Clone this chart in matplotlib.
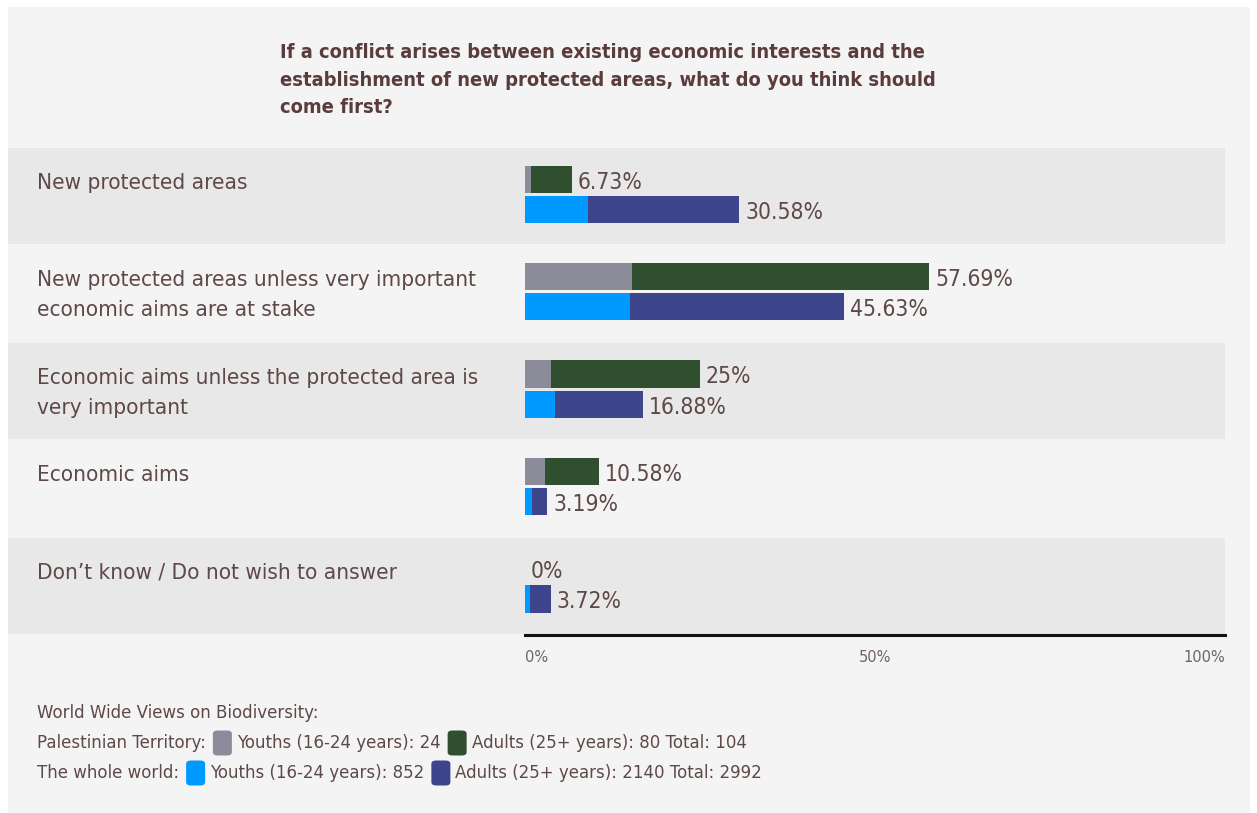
import matplotlib
matplotlib.use("Agg")
import matplotlib.pyplot as plt
from matplotlib.patches import Rectangle, FancyBboxPatch

# ---- data -------------------------------------------------------------
title = ("If a conflict arises between existing economic interests and the\n"
         "establishment of new protected areas, what do you think should\n"
         "come first?")
categories = [
    "New protected areas",
    "New protected areas unless very important\neconomic aims are at stake",
    "Economic aims unless the protected area is\nvery important",
    "Economic aims",
    "Don\u2019t know / Do not wish to answer",
]
# Palestinian Territory: total share and the part contributed by youths
pt_total = [6.73, 57.69, 25.0, 10.58, 0.0]
pt_youth = [0.96, 15.38, 3.85, 2.88, 0.0]
# The whole world
world_total = [30.58, 45.63, 16.88, 3.19, 3.72]
world_youth = [9.1, 15.0, 4.35, 1.1, 0.85]

tick_values = [0, 50, 100]
tick_labels = ["0%", "50%", "100%"]

legend_title = "World Wide Views on Biodiversity:"
legend_rows = [
    ("Palestinian Territory:", [("Youths (16-24 years): 24", "#8b8b99"),
                                ("Adults (25+ years): 80 Total: 104", "#2f4f2f")]),
    ("The whole world:", [("Youths (16-24 years): 852", "#0099ff"),
                          ("Adults (25+ years): 2140 Total: 2992", "#3d468c")]),
]

# ---- style ------------------------------------------------------------
C_PT_Y, C_PT_A = "#8b8b99", "#2f4f2f"
C_W_Y, C_W_A = "#0099ff", "#3d468c"
TXT = "#5e4848"
TITLE_C = "#5a3c3c"
BAND = "#e8e8e8"
PANEL = "#f4f4f4"
FONT = ["DejaVu Sans"]
NARROW = dict(family=FONT, fontstretch="condensed")

W, H = 1257, 813
fig = plt.figure(figsize=(W / 100, H / 100), dpi=100, facecolor="white")

# panel background
fig.patches.append(Rectangle((8 / W, 0), (1250 - 8) / W, (H - 7) / H,
                             transform=fig.transFigure, facecolor=PANEL,
                             edgecolor="none", zorder=-10))

# ---- main axes: x in percent, rows stacked downwards ------------------
x0_px, x100_px = 524.5, 1225.0
left_px = 8.0
top_px, bot_px = 148.0, 635.0
px_per_pct = (x100_px - x0_px) / 100.0
xmin = -(x0_px - left_px) / px_per_pct

ax = fig.add_axes([left_px / W, 1 - bot_px / H, (x100_px - left_px) / W,
                   (bot_px - top_px) / H])
ax.set_facecolor("none")
ax.set_xlim(xmin, 100)
n = len(categories)
ax.set_ylim(n, 0)

for i in range(n):
    if i % 2 == 0:
        ax.axhspan(i, i + 0.985, color=BAND, zorder=0, lw=0)

bh = 0.28
yc_pt = [i + 0.32 for i in range(n)]
yc_w = [i + 0.63 for i in range(n)]
pt_adult = [t - y for t, y in zip(pt_total, pt_youth)]
w_adult = [t - y for t, y in zip(world_total, world_youth)]

ax.barh(yc_pt, pt_youth, height=bh, color=C_PT_Y, zorder=2, lw=0)
ax.barh(yc_pt, pt_adult, left=pt_youth, height=bh, color=C_PT_A, zorder=2, lw=0)
ax.barh(yc_w, world_youth, height=bh, color=C_W_Y, zorder=2, lw=0)
ax.barh(yc_w, w_adult, left=world_youth, height=bh, color=C_W_A, zorder=2, lw=0)


def fmt(v):
    s = f"{v:.2f}".rstrip("0").rstrip(".")
    return s + "%"


for i in range(n):
    ax.text(pt_total[i] + 0.9, yc_pt[i] + 0.03, fmt(pt_total[i]), ha="left",
            va="center", fontsize=16.4, color=TXT, **NARROW)
    ax.text(world_total[i] + 0.9, yc_w[i] + 0.03, fmt(world_total[i]), ha="left",
            va="center", fontsize=16.4, color=TXT, **NARROW)
    ax.text(-(x0_px - 37) / px_per_pct, i + 0.255, categories[i], ha="left",
            va="top", fontsize=16.1, color=TXT, linespacing=1.62, **NARROW)

for s in ["top", "right", "left"]:
    ax.spines[s].set_visible(False)
ax.spines["bottom"].set_bounds(0, 100)
ax.spines["bottom"].set_linewidth(2.2)
ax.spines["bottom"].set_color("#111111")
ax.set_yticks([])
ax.set_xticks(tick_values)
ax.set_xticklabels(tick_labels, fontsize=10.5, color="#706262", family=FONT)
ax.tick_params(axis="x", length=0, pad=11)
for lab, ha in zip(ax.get_xticklabels(), ["left", "center", "right"]):
    lab.set_ha(ha)

# ---- title ------------------------------------------------------------
fig.text(280 / W, 1 - 43 / H, title, ha="left", va="top", fontsize=14.4,
         fontweight="bold", color=TITLE_C, linespacing=1.58, **NARROW)

# ---- legend -----------------------------------------------------------
fig.canvas.draw()
renderer = fig.canvas.get_renderer()
LEG_FS = 12
fig.text(37 / W, 1 - 713 / H, legend_title, ha="left", va="center",
         fontsize=LEG_FS, color=TXT, family=FONT)
for r, (label, items) in enumerate(legend_rows):
    yc = 743 + 30 * r
    x = 37.0
    t = fig.text(x / W, 1 - yc / H, label, ha="left", va="center",
                 fontsize=LEG_FS, color=TXT, family=FONT)
    x += t.get_window_extent(renderer).width + 7
    for txt, col in items:
        fig.patches.append(FancyBboxPatch(
            (x / W, 1 - (yc + 12.5) / H), 19 / W, 25 / H,
            boxstyle="round,pad=0,rounding_size=0.004",
            transform=fig.transFigure, facecolor=col, edgecolor="none"))
        x += 19 + 5
        t = fig.text(x / W, 1 - yc / H, txt, ha="left", va="center",
                     fontsize=LEG_FS, color=TXT, family=FONT)
        x += t.get_window_extent(renderer).width + 7

fig.savefig("out.png", dpi=100, facecolor="white")
